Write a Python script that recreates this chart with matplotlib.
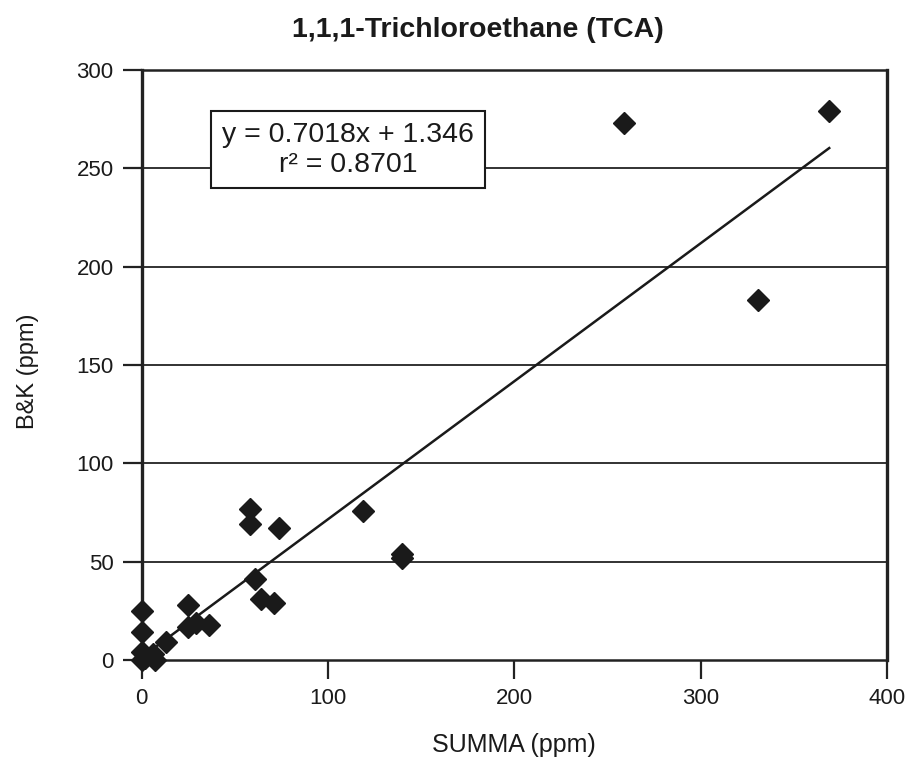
import matplotlib.pyplot as plt

plt.rcParams['font.family'] = ['Liberation Sans', 'DejaVu Sans']

# SUMMA vs B&K readings (ppm)
summa = [0, 0, 0, 0, 2, 6, 7, 13, 25, 25, 29, 36, 58, 58, 61, 64, 71, 74, 119, 140, 140, 259, 331, 369]
bk = [25, 14, 4, 0, 1, 3, 0, 9, 28, 17, 19, 18, 77, 69, 41, 31, 29, 67, 76, 54, 52, 273, 183, 279]

slope = 0.7018
intercept = 1.346
r2 = 0.8701

x_ticks = [0, 100, 200, 300, 400]
y_ticks = [0, 50, 100, 150, 200, 250, 300]

W, H = 909, 774
fig = plt.figure(figsize=(W / 100, H / 100), dpi=100)
ax = fig.add_axes([141.5 / W, 1 - 660 / H, (887 - 141.5) / W, (660 - 70) / H])

ax.set_xlim(0, 400)
ax.set_ylim(0, 300)
ax.set_xticks(x_ticks)
ax.set_yticks(y_ticks)
ax.tick_params(direction='out', length=14, width=1.6, labelsize=16, color='#222222', labelcolor='#1a1a1a')
ax.tick_params(axis='x', pad=6)
ax.tick_params(axis='y', pad=6)

for y in y_ticks[1:-1]:
    ax.axhline(y, color='#222222', lw=1.3, zorder=1)

for side in ['left', 'right']:
    ax.spines[side].set_linewidth(2.4)
for side in ['top', 'bottom']:
    ax.spines[side].set_linewidth(1.8)
for s in ax.spines.values():
    s.set_color('#222222')

# trendline over the data range
x_line = [min(summa), max(summa)]
y_line = [slope * v + intercept for v in x_line]
ax.plot(x_line, y_line, color='#1a1a1a', lw=1.8, zorder=2)

ax.plot(summa, bk, linestyle='none', marker='D', markersize=11, color='#1a1a1a', clip_on=False, zorder=3)

ax.text(110.8, 259.5, f"y = {slope}x + {intercept}\nr\u00b2 = {r2}", fontsize=20.5, ha='center', va='center',
        multialignment='center', linespacing=1.2, color='#1a1a1a', zorder=4,
        bbox=dict(boxstyle='square,pad=0.38', fc='white', ec='#1a1a1a', lw=1.5))

fig.text(478 / W, 1 - 30 / H, "1,1,1-Trichloroethane (TCA)", fontsize=20.5, fontweight='bold',
         ha='center', va='center', color='#1a1a1a')
fig.text(514 / W, 1 - 745 / H, "SUMMA (ppm)", fontsize=18, ha='center', va='center', color='#1a1a1a')
fig.text(28 / W, 1 - 371 / H, "B&K (ppm)", fontsize=17, rotation=90, ha='center', va='center', color='#1a1a1a')

fig.savefig('out.png', dpi=100)
